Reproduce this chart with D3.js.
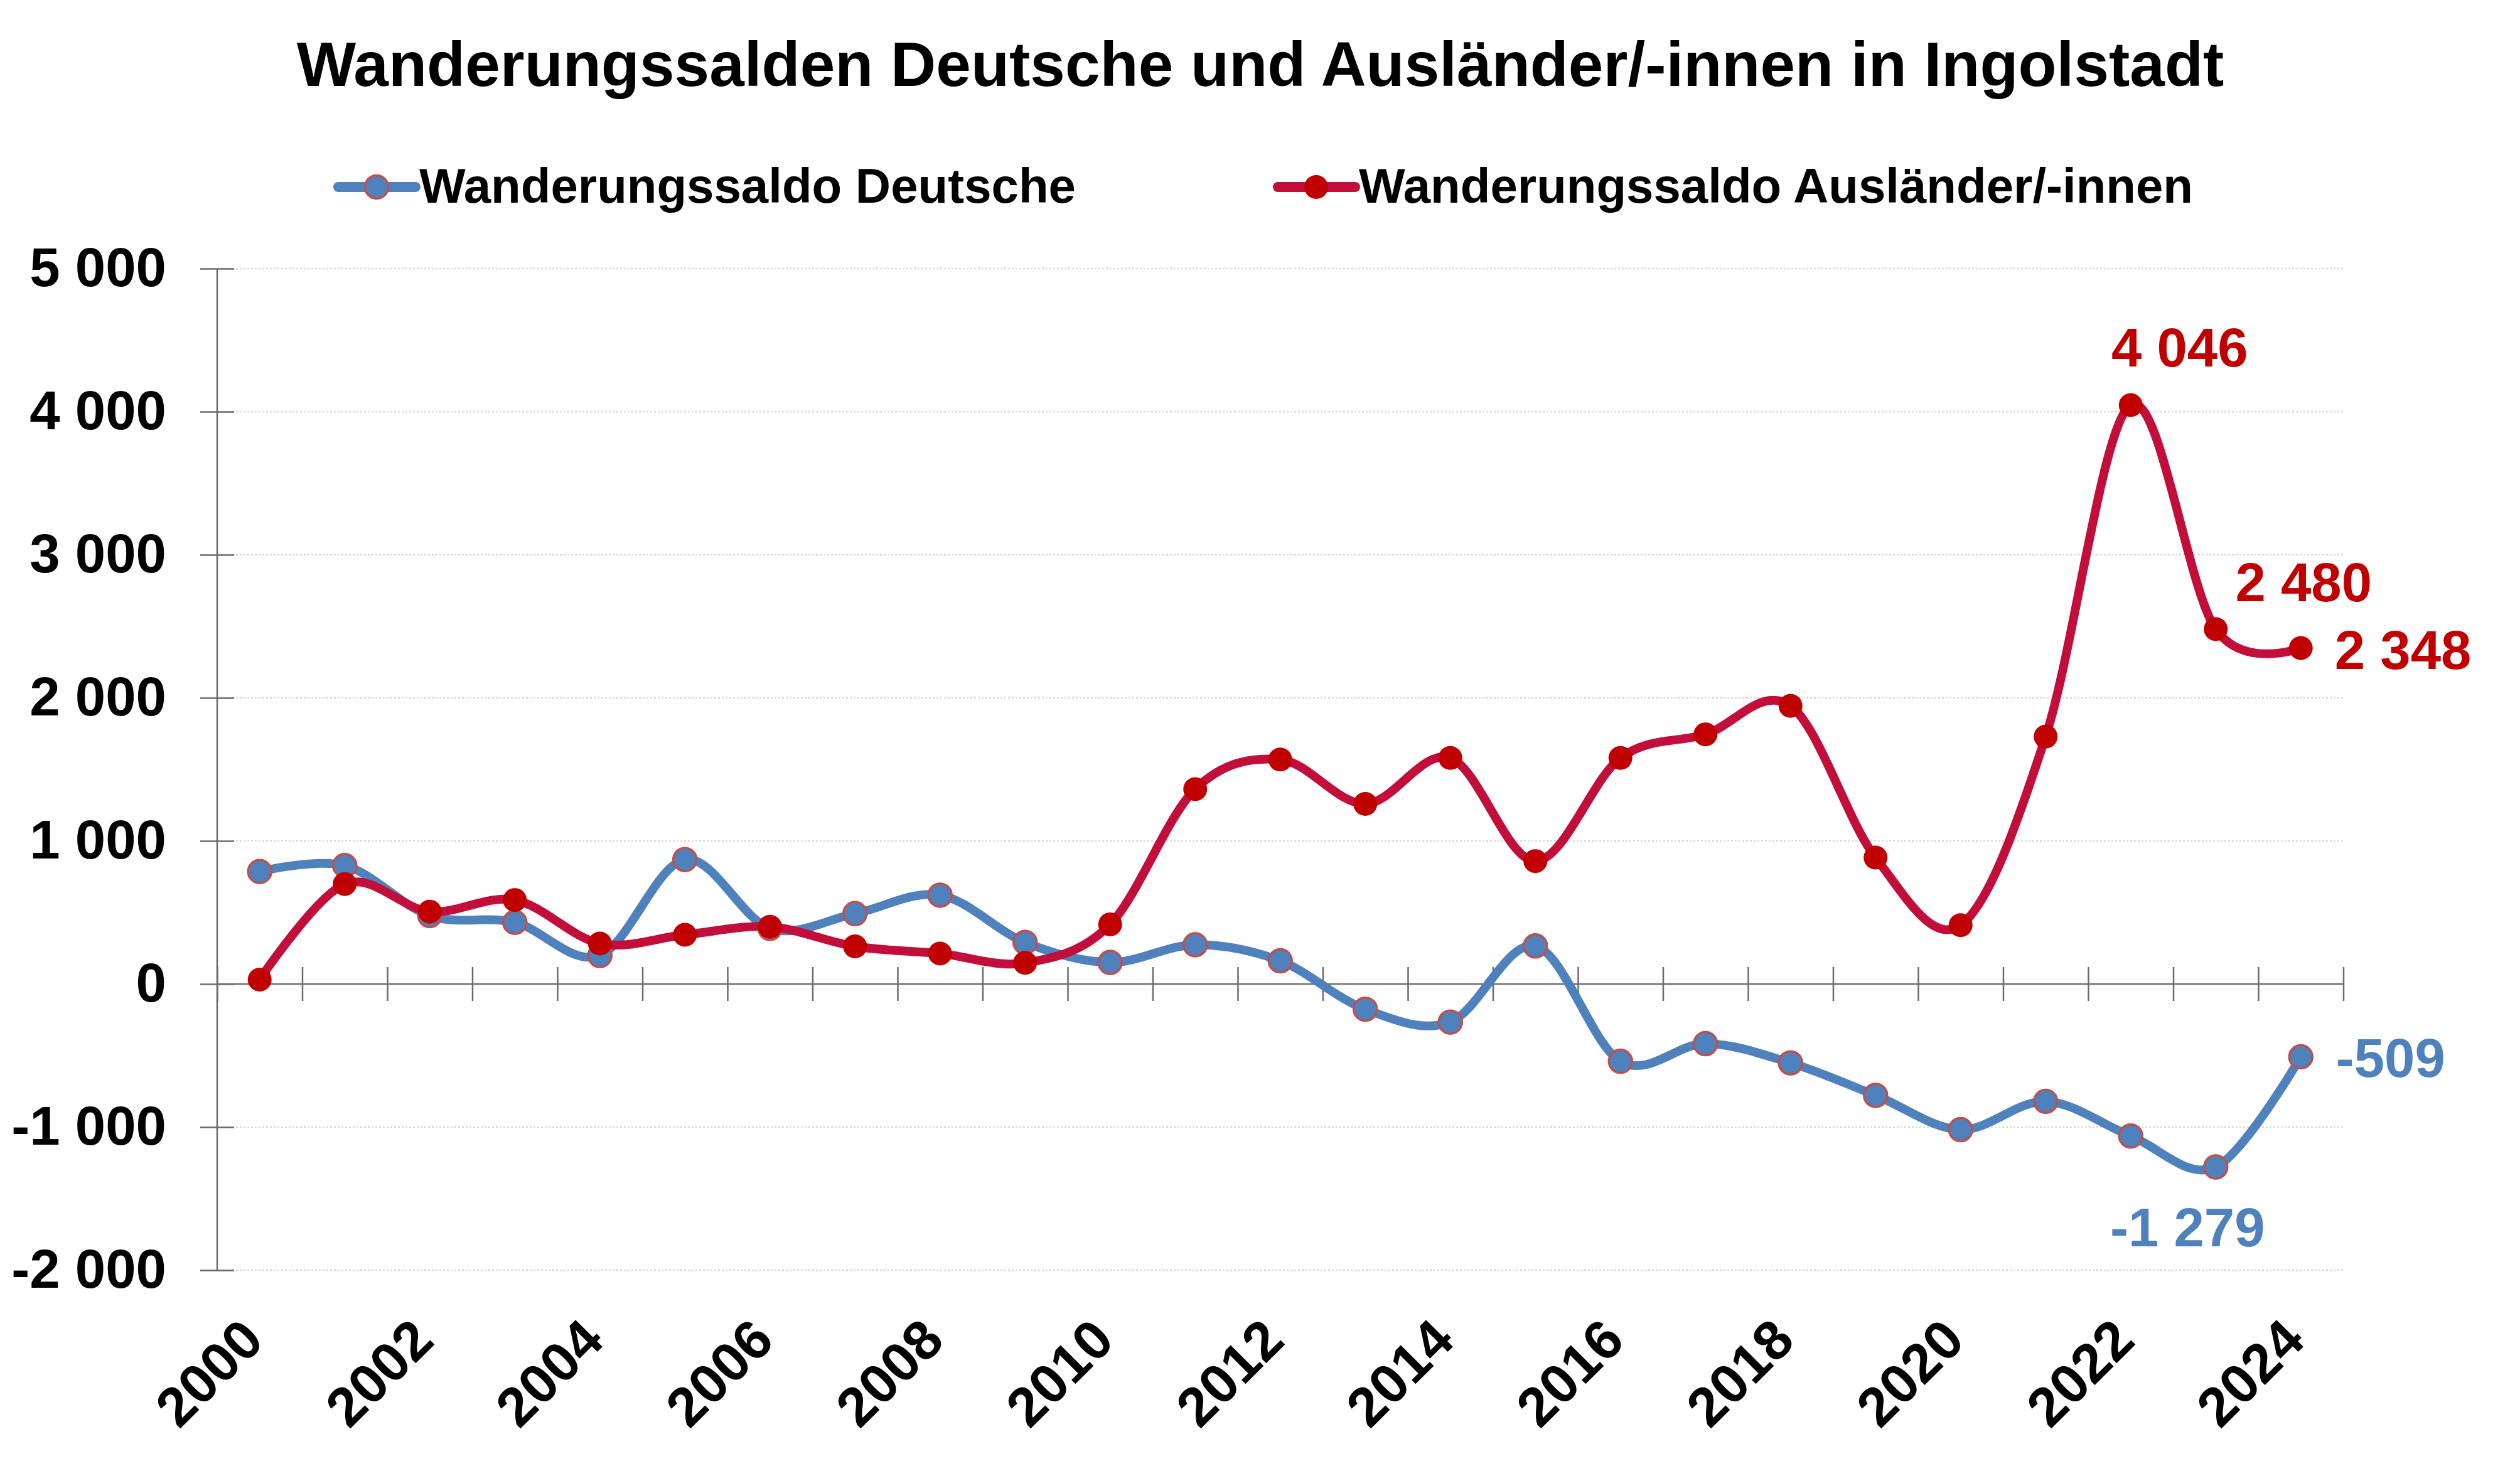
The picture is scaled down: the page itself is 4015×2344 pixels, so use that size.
<!DOCTYPE html>
<html>
<head>
    <meta charset="utf-8">
    <title>Wanderungssalden Ingolstadt</title>
    <script type="text/javascript" src="https://cdn.jsdelivr.net/npm/d3@7"></script>
    <style type="text/css">
        body { margin: 0; background: #fff; }
        svg text { font-family: Arial, "Liberation Sans", sans-serif; font-weight: bold; }
    </style>
</head>
<body>
<div id="app"></div>

<script type="text/javascript">
    // Daten
    var years = d3.range(2000, 2025);
    var deutsche = [786, 828, 478, 431, 199, 870, 389, 492, 621, 291, 151, 274, 162, -176, -266, 266, -540, -417, -551, -778, -1018, -820, -1062, -1279, -509];
    var auslaender = [31, 699, 506, 587, 283, 344, 400, 263, 213, 148, 417, 1362, 1569, 1259, 1580, 859, 1580, 1745, 1944, 884, 411, 1729, 4046, 2480, 2348];
    var yTicks = [-2000, -1000, 0, 1000, 2000, 3000, 4000, 5000];
    var seriesNames = ["Wanderungssaldo Deutsche", "Wanderungssaldo Ausländer/-innen"];

    !function () {
        const w = 4015, h = 2344;
        const blue = "#4F81BD", blueEdge = "#C0504D", redLine = "#C10E3A", redDot = "#C00000";
        const axisCol = "#6b6b6b";

        const svg = d3.select('#app').append('svg').attr('width', w).attr('height', h);

        const loc = d3.formatLocale({decimal: ",", thousands: " ", grouping: [3], currency: ["", "€"], minus: "-"});
        const fmt = loc.format(",d");

        const x = d3.scaleLinear().domain([1999.5, 2024.5]).range([346, 3733.5]);
        const y = d3.scaleLinear().domain([-2000, 5000]).range([2024, 428]);

        ///Titel
        svg.append('text')
            .attr('x', 2008).attr('y', 137)
            .attr('text-anchor', 'middle')
            .style('font-size', '100px')
            .text('Wanderungssalden Deutsche und Ausländer/-innen in Ingolstadt');

        ///Gitterlinien
        svg.append('g').selectAll('line')
            .data(yTicks.filter(function (d) { return d !== 0; }))
            .enter().append('line')
            .attr('x1', x.range()[0]).attr('x2', x.range()[1])
            .attr('y1', function (d) { return y(d); })
            .attr('y2', function (d) { return y(d); })
            .attr('stroke', '#d9d9d9').attr('stroke-width', 2.5)
            .attr('stroke-dasharray', '3,3');

        ///Y-Achse (Ticks kreuzen die Achse)
        const yAxis = svg.append('g')
            .attr('transform', 'translate(' + (x.range()[0] + 27) + ',0)')
            .call(d3.axisLeft(y).tickValues(yTicks).tickSize(54).tickPadding(54).tickFormat(fmt));
        yAxis.select('.domain').remove();
        yAxis.selectAll('line').attr('stroke', axisCol).attr('stroke-width', 2.5);
        yAxis.selectAll('text').attr('fill', '#000').style('font-size', '87px')
            .style('font-family', 'Arial, "Liberation Sans", sans-serif').style('font-weight', 'bold');
        svg.append('line')
            .attr('x1', x.range()[0]).attr('x2', x.range()[0])
            .attr('y1', y(5000)).attr('y2', y(-2000))
            .attr('stroke', axisCol).attr('stroke-width', 2.5);

        ///X-Achse auf der Nulllinie
        const bounds = d3.range(0, years.length + 1).map(function (i) { return 1999.5 + i; });
        const xAxis = svg.append('g')
            .attr('transform', 'translate(0,' + (y(0) - 27) + ')')
            .call(d3.axisBottom(x).tickValues(bounds).tickSize(54).tickFormat(''));
        xAxis.select('.domain').remove();
        xAxis.selectAll('line').attr('stroke', axisCol).attr('stroke-width', 2.5);
        svg.append('line')
            .attr('x1', x.range()[0]).attr('x2', x.range()[1])
            .attr('y1', y(0)).attr('y2', y(0))
            .attr('stroke', axisCol).attr('stroke-width', 2.5);

        ///Jahreszahlen unten, gedreht
        svg.append('g').selectAll('text')
            .data(years.filter(function (d) { return d % 2 === 0; }))
            .enter().append('text')
            .attr('text-anchor', 'end')
            .attr('transform', function (d) {
                return 'translate(' + (x(d) + 10) + ',' + (y(-2000) + 116) + ') rotate(-45)';
            })
            .style('font-size', '88px')
            .text(function (d) { return d; });

        ///Linien
        const line = d3.line()
            .x(function (d, i) { return x(years[i]); })
            .y(function (d) { return y(d); })
            .curve(d3.curveCardinal.tension(0));

        svg.append('path').datum(deutsche)
            .attr('d', line).attr('fill', 'none')
            .attr('stroke', blue).attr('stroke-width', 14).attr('stroke-linejoin', 'round');
        svg.append('g').selectAll('circle')
            .data(deutsche).enter().append('circle')
            .attr('cx', function (d, i) { return x(years[i]); })
            .attr('cy', function (d) { return y(d); })
            .attr('r', 18.5)
            .attr('fill', blue).attr('stroke', blueEdge).attr('stroke-width', 3.5);

        svg.append('path').datum(auslaender)
            .attr('d', line).attr('fill', 'none')
            .attr('stroke', redLine).attr('stroke-width', 14).attr('stroke-linejoin', 'round');
        svg.append('g').selectAll('circle')
            .data(auslaender).enter().append('circle')
            .attr('cx', function (d, i) { return x(years[i]); })
            .attr('cy', function (d) { return y(d); })
            .attr('r', 19)
            .attr('fill', redDot);

        ///Datenbeschriftungen
        const labels = [
            {s: deutsche, i: 23, dx: -45, dy: 126, a: 'middle', c: blue},
            {s: deutsche, i: 24, dx: 56, dy: 32, a: 'start', c: blue},
            {s: auslaender, i: 22, dx: 78, dy: -62, a: 'middle', c: redDot},
            {s: auslaender, i: 23, dx: 140, dy: -45, a: 'middle', c: redDot},
            {s: auslaender, i: 24, dx: 54, dy: 33, a: 'start', c: redDot}
        ];
        svg.append('g').selectAll('text')
            .data(labels).enter().append('text')
            .attr('x', function (d) { return x(years[d.i]) + d.dx; })
            .attr('y', function (d) { return y(d.s[d.i]) + d.dy; })
            .attr('text-anchor', function (d) { return d.a; })
            .attr('fill', function (d) { return d.c; })
            .style('font-size', '87px')
            .text(function (d) { return fmt(d.s[d.i]); });

        ///Legende
        const legend = svg.append('g').selectAll('g')
            .data(seriesNames).enter().append('g')
            .attr('transform', function (d, i) { return 'translate(' + [539, 2036][i] + ',298)'; });
        legend.append('line')
            .attr('x1', 0).attr('x2', 123).attr('y1', 0).attr('y2', 0)
            .attr('stroke', function (d, i) { return i === 0 ? blue : redLine; })
            .attr('stroke-width', 16).attr('stroke-linecap', 'round');
        legend.append('circle')
            .attr('cx', 61).attr('cy', 0)
            .attr('r', function (d, i) { return i === 0 ? 18.5 : 19; })
            .attr('fill', function (d, i) { return i === 0 ? blue : redDot; })
            .attr('stroke', function (d, i) { return i === 0 ? blueEdge : 'none'; })
            .attr('stroke-width', 3.5);
        legend.append('text')
            .attr('x', 129).attr('y', 25)
            .style('font-size', '78px')
            .text(function (d) { return d; });
    }();
</script>
</body>
</html>
